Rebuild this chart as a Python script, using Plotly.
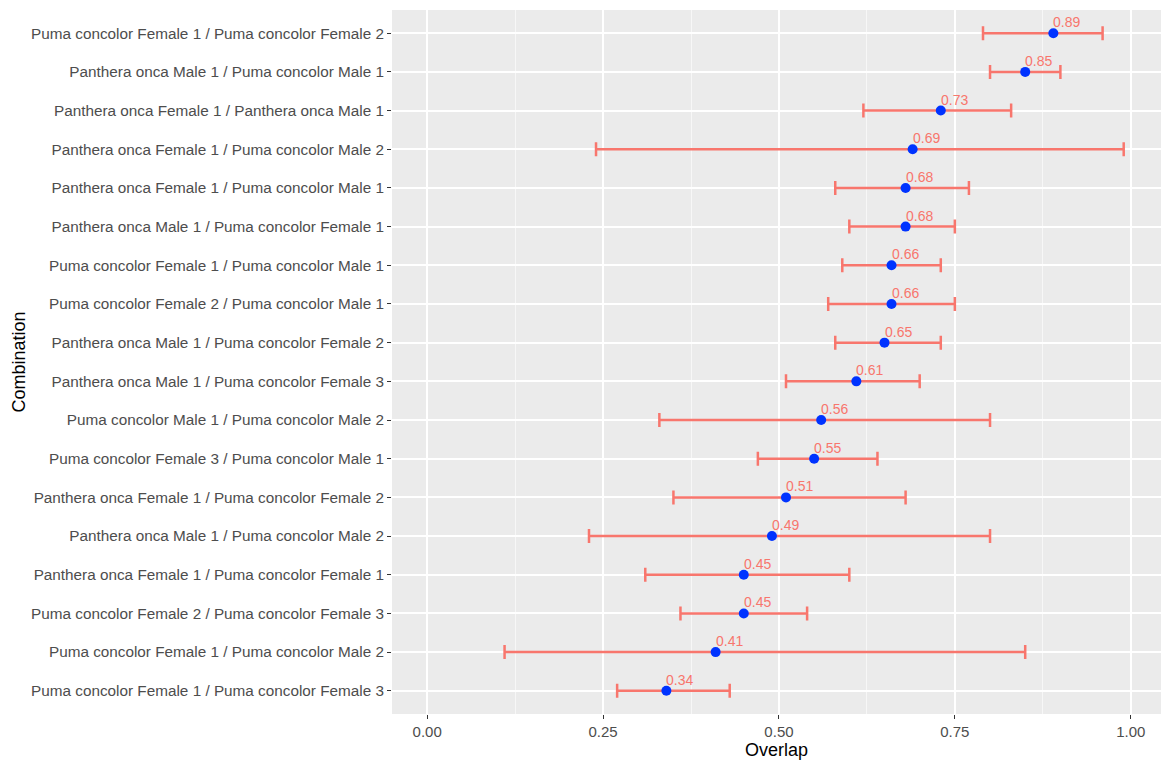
import plotly.graph_objects as go

combinations = [
    "Puma concolor Female 1 / Puma concolor Female 2",
    "Panthera onca Male 1 / Puma concolor Male 1",
    "Panthera onca Female 1 / Panthera onca Male 1",
    "Panthera onca Female 1 / Puma concolor Male 2",
    "Panthera onca Female 1 / Puma concolor Male 1",
    "Panthera onca Male 1 / Puma concolor Female 1",
    "Puma concolor Female 1 / Puma concolor Male 1",
    "Puma concolor Female 2 / Puma concolor Male 1",
    "Panthera onca Male 1 / Puma concolor Female 2",
    "Panthera onca Male 1 / Puma concolor Female 3",
    "Puma concolor Male 1 / Puma concolor Male 2",
    "Puma concolor Female 3 / Puma concolor Male 1",
    "Panthera onca Female 1 / Puma concolor Female 2",
    "Panthera onca Male 1 / Puma concolor Male 2",
    "Panthera onca Female 1 / Puma concolor Female 1",
    "Puma concolor Female 2 / Puma concolor Female 3",
    "Puma concolor Female 1 / Puma concolor Male 2",
    "Puma concolor Female 1 / Puma concolor Female 3",
]
overlap = [0.89, 0.85, 0.73, 0.69, 0.68, 0.68, 0.66, 0.66, 0.65, 0.61,
           0.56, 0.55, 0.51, 0.49, 0.45, 0.45, 0.41, 0.34]
lower = [0.79, 0.80, 0.62, 0.24, 0.58, 0.60, 0.59, 0.57, 0.58, 0.51,
         0.33, 0.47, 0.35, 0.23, 0.31, 0.36, 0.11, 0.27]
upper = [0.96, 0.90, 0.83, 0.99, 0.77, 0.75, 0.73, 0.75, 0.73, 0.70,
         0.80, 0.64, 0.68, 0.80, 0.60, 0.54, 0.85, 0.43]
x_ticks = [0.0, 0.25, 0.5, 0.75, 1.0]
x_tick_labels = ["0.00", "0.25", "0.50", "0.75", "1.00"]

FONT = "Liberation Sans, Arial, sans-serif"
SALMON = "#F8766D"

fig = go.Figure()
fig.add_trace(go.Scatter(
    x=overlap, y=combinations, mode="markers",
    marker=dict(color="#0033FF", size=10),
    error_x=dict(type="data", symmetric=False,
                 array=[u - v for u, v in zip(upper, overlap)],
                 arrayminus=[v - l for v, l in zip(overlap, lower)],
                 color=SALMON, thickness=2.5, width=7),
    showlegend=False, hoverinfo="skip",
))

for v, c in zip(overlap, combinations):
    fig.add_annotation(x=v, y=c, text=f"{v:.2f}", showarrow=False,
                       xanchor="left", yanchor="bottom", xshift=-2, yshift=1,
                       font=dict(family=FONT, size=14, color=SALMON))

fig.update_layout(
    width=1161, height=765,
    margin=dict(l=392, r=0, t=10, b=51),
    paper_bgcolor="white", plot_bgcolor="#EBEBEB",
    font=dict(family=FONT),
    xaxis=dict(
        range=[-0.05, 1.043], tickvals=x_ticks, ticktext=x_tick_labels,
        showgrid=True, gridcolor="white", gridwidth=1.6, zeroline=False,
        ticks="outside", ticklen=4, tickcolor="#333333", tickwidth=1,
        tickfont=dict(family=FONT, size=15, color="#4D4D4D"),
        minor=dict(tickvals=[0.125, 0.375, 0.625, 0.875], showgrid=True,
                   gridcolor="#F7F7F7", gridwidth=0.8, ticks=""),
        title=dict(text="Overlap", font=dict(family=FONT, size=18, color="black"), standoff=4),
        showline=False, fixedrange=True, automargin=False,
    ),
    yaxis=dict(
        type="category", categoryorder="array", categoryarray=combinations,
        range=[17.6, -0.6],
        showgrid=True, gridcolor="white", gridwidth=1.6, zeroline=False,
        ticks="outside", ticklen=4, tickcolor="#333333", tickwidth=1,
        tickfont=dict(family=FONT, size=15.3, color="#4D4D4D"),
        title=dict(text="Combination", font=dict(family=FONT, size=18, color="black"), standoff=0),
        showline=False, fixedrange=True, automargin=False,
    ),
)

fig.write_html("out.html")
